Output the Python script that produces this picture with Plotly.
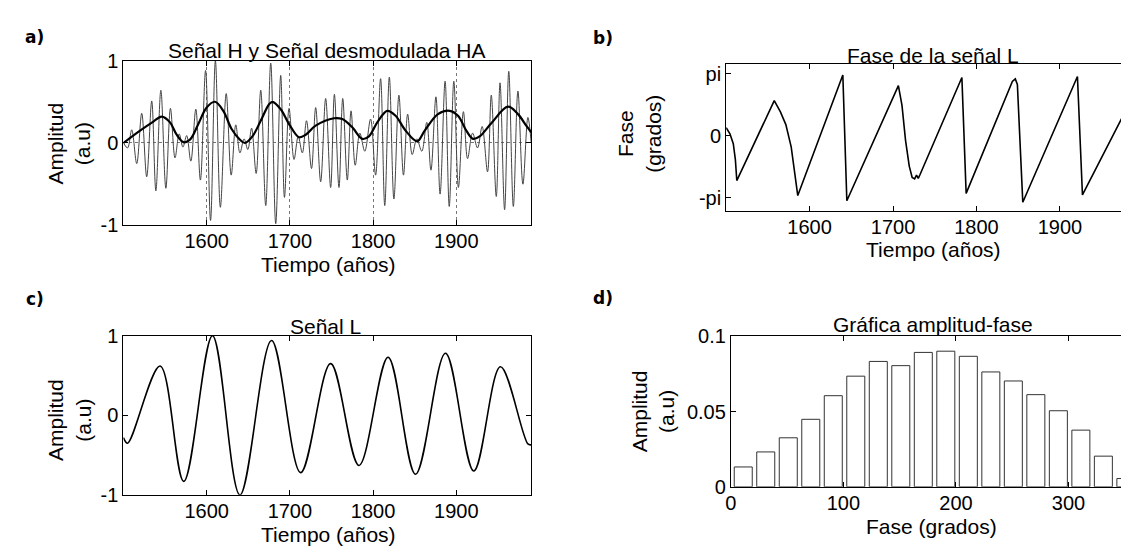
import plotly.graph_objects as go

W, H = 1129, 550

# a) Señal H (extremos leídos) y envolvente HA
h_years = [1500, 1505, 1510, 1516, 1522, 1528, 1534, 1539, 1545, 1551, 1556.5, 1562, 1567, 1571.5,
           1576, 1581, 1587, 1592.5, 1598.7, 1604.7, 1610.5, 1616.5, 1623.5, 1629.5, 1635, 1640,
           1645, 1649.5, 1654, 1659.5, 1665, 1671, 1677, 1683, 1689, 1693.5, 1699, 1705, 1710,
           1715, 1720, 1726, 1731, 1737, 1743, 1749, 1753.5, 1759, 1763.5, 1769, 1773.5, 1778.5,
           1784, 1790, 1797, 1803, 1809, 1814, 1819.5, 1825, 1831, 1836.5, 1841.5, 1847, 1852.5,
           1858.5, 1864.5, 1869.5, 1875.5, 1880.5, 1886.5, 1891.5, 1897, 1902.5, 1908.5, 1913.5,
           1919.5, 1925.5, 1931, 1937.5, 1942, 1948, 1952.5, 1958, 1963, 1968.5, 1974, 1980, 1986, 1990]
h_vals = [0.0, -0.06, 0.16, -0.25, 0.36, -0.41, 0.51, -0.58, 0.64, -0.55, 0.42, -0.18, 0.11, -0.05,
          0.09, -0.22, 0.41, -0.45, 0.88, -0.94, 1.0, -0.78, 0.6, -0.39, 0.22, -0.12,
          0.05, -0.08, 0.18, -0.37, 0.64, -0.76, 0.97, -0.98, 0.82, -0.66, 0.42, -0.2, 0.08,
          -0.12, 0.27, -0.31, 0.43, -0.47, 0.54, -0.54, 0.59, -0.54, 0.54, -0.45, 0.39, -0.27,
          0.12, -0.1, 0.29, -0.39, 0.78, -0.76, 0.8, -0.68, 0.58, -0.39, 0.35, -0.14, 0.05,
          -0.1, 0.25, -0.33, 0.56, -0.62, 0.75, -0.77, 0.75, -0.54, 0.38, -0.19,
          0.12, -0.06, 0.2, -0.35, 0.58, -0.65, 0.73, -0.81, 0.87, -0.77, 0.63, -0.5, 0.31, 0.0]

env_years = [1500, 1520, 1536, 1546, 1556, 1564, 1572, 1580, 1590, 1600, 1610, 1620, 1630, 1640,
             1646, 1655, 1665, 1675, 1679, 1689, 1699, 1711, 1719, 1731, 1753, 1763, 1775, 1787,
             1795, 1805, 1817, 1827, 1839, 1853, 1862, 1878, 1892, 1902, 1912, 1920, 1928, 1942,
             1962, 1974, 1984, 1990]
env_vals = [0.0, 0.15, 0.26, 0.32, 0.25, 0.10, 0.01, 0.04, 0.23, 0.43, 0.50, 0.39, 0.17, 0.04,
            0.0, 0.08, 0.27, 0.47, 0.50, 0.41, 0.23, 0.07, 0.10, 0.21, 0.30, 0.29, 0.19, 0.05,
            0.08, 0.25, 0.39, 0.33, 0.15, 0.02, 0.15, 0.35, 0.39, 0.33, 0.15, 0.05, 0.08, 0.24,
            0.44, 0.35, 0.21, 0.13]

# b) Fase de la señal L
fase_years = [1500, 1504.5, 1508.5, 1511, 1512.7, 1557.6, 1565, 1571.5, 1577.9, 1582.3, 1585.8,
              1639.8, 1644.6, 1706.4, 1710.7, 1715, 1719.4, 1722.9, 1725.9, 1728.1, 1730.2, 1732.5,
              1782.5, 1787.6, 1843, 1846.5, 1849, 1855.5, 1921, 1927, 1986, 1990]
fase_vals = [0.41, 0.1, -0.4, -1.2, -2.26, 1.78, 1.21, 0.57, -0.56, -1.86, -3.02,
             3.08, -3.28, 2.54, 1.54, -0.24, -1.53, -2.10, -2.18, -1.99, -2.15, -1.94,
             2.95, -2.91, 2.75, 2.88, 2.6, -3.36, 3.0, -2.99, 1.86, 0.41]

# c) Señal L (extremos)
l_years = [1500, 1505, 1544, 1572.5, 1607, 1640, 1678, 1713, 1749, 1783, 1818, 1851, 1887, 1921,
           1953, 1986, 1990]
l_vals = [-0.28, -0.35, 0.62, -0.83, 1.0, -1.0, 0.94, -0.72, 0.65, -0.63, 0.73, -0.74, 0.78,
          -0.70, 0.61, -0.36, -0.37]

# d) Gráfica amplitud-fase
d_fase = [11, 31, 51, 71, 91, 111, 131, 151, 171, 191, 211, 231, 251, 271, 291, 311, 331, 351]
d_amp = [0.0132, 0.0232, 0.0326, 0.0449, 0.0606, 0.0736, 0.0834, 0.0806, 0.0894, 0.0902,
         0.0868, 0.0764, 0.0704, 0.0613, 0.0506, 0.0377, 0.0204, 0.0055]

FONT = "Liberation Sans"


def dom_x(a, b):
    return [a / W, b / W]


def dom_y(top, bottom):
    return [1 - bottom / H, 1 - top / H]


def ax(domain, rng, tickvals, ticktext=None, grid=False, anchor=None, standoff=0):
    d = dict(domain=domain, range=rng, tickvals=tickvals, showline=True, linecolor="black",
             linewidth=1, mirror="ticks", ticks="inside", ticklen=5, tickcolor="black",
             tickfont=dict(family=FONT, size=20, color="black"), zeroline=False,
             showgrid=grid, gridcolor="#777", griddash="dot", gridwidth=1, anchor=anchor,
             ticklabelstandoff=standoff)
    if ticktext is not None:
        d["ticktext"] = ticktext
    return d


years_ticks = [1600, 1700, 1800, 1900]

fig = go.Figure()
fig.add_trace(go.Scatter(x=h_years, y=h_vals, mode="lines", line=dict(color="#444", width=1, shape="spline"),
                         xaxis="x", yaxis="y"))
fig.add_trace(go.Scatter(x=env_years, y=env_vals, mode="lines", line=dict(color="black", width=2.2, shape="spline"),
                         xaxis="x", yaxis="y"))
fig.add_trace(go.Scatter(x=fase_years, y=fase_vals, mode="lines", line=dict(color="black", width=1.6),
                         xaxis="x2", yaxis="y2"))
fig.add_trace(go.Scatter(x=l_years, y=l_vals, mode="lines", line=dict(color="black", width=1.6, shape="spline"),
                         xaxis="x3", yaxis="y3"))
fig.add_trace(go.Bar(x=d_fase, y=d_amp, width=16, marker=dict(color="white", line=dict(color="#333", width=1)),
                     xaxis="x4", yaxis="y4"))

pi = 3.14159265
fig.update_layout(
    width=W, height=H, margin=dict(l=0, r=0, t=0, b=0), showlegend=False,
    paper_bgcolor="white", plot_bgcolor="white",
    xaxis=ax(dom_x(110, 520), [1500, 1990], years_ticks, grid=True, anchor="y", standoff=-2),
    yaxis=ax(dom_y(43.3, 215), [-1, 1], [-1, 0, 1], ["-1", "0", "1"], grid=True, anchor="x"),
    xaxis2=ax(dom_x(716, 1127), [1500, 1990], years_ticks, anchor="y2", standoff=-2),
    yaxis2=ax(dom_y(46.7, 200), [-3.80, 3.64], [-pi, 0, pi], ["-pi", "0", "pi"], anchor="x2"),
    xaxis3=ax(dom_x(110, 520), [1500, 1990], years_ticks, anchor="y3", standoff=-2),
    yaxis3=ax(dom_y(330, 495.7), [-1, 1], [-1, 0, 1], ["-1", "0", "1"], anchor="x3"),
    xaxis4=ax(dom_x(720.7, 1128), [0, 360], [0, 100, 200, 300], anchor="y4", standoff=-2),
    yaxis4=ax(dom_y(330.7, 487.3), [0, 0.1], [0, 0.05, 0.1], ["0", "0.05", "0.1"], anchor="x4"),
)

labels = [
    ("Señal H y Señal desmodulada HA", 315, 33, 0),
    ("Fase de la señal L", 924, 38, 0),
    ("Señal L", 313, 320, 0),
    ("Gráfica amplitud-fase", 924, 318, 0),
    ("Tiempo (años)", 316, 256, 0),
    ("Tiempo (años)", 924, 240, 0),
    ("Tiempo (años)", 316, 537, 0),
    ("Fase (grados)", 922, 529, 0),
    ("Amplitud<br>(a.u)", 55, 130, -90),
    ("Fase<br>(grados)", 629, 120, -90),
    ("Amplitud<br>(a.u)", 56, 418, -90),
    ("Amplitud<br>(a.u)", 642, 409, -90),
]
for text, x, y, ang in labels:
    fig.add_annotation(text=text, x=x / W, y=1 - y / H, xref="paper", yref="paper",
                       xanchor="center", yanchor="middle", showarrow=False, textangle=ang,
                       font=dict(family=FONT, size=21, color="black"))

for text, x, y in [("a)", 21, 19), ("b)", 592, 20), ("c)", 21, 292), ("d)", 592, 291)]:
    fig.add_annotation(text="<b>" + text + "</b>", x=x / W, y=1 - y / H, xref="paper", yref="paper",
                       xanchor="center", yanchor="middle", showarrow=False,
                       font=dict(family="DejaVu Sans", size=17, color="black"))

fig.write_html("out.html")
